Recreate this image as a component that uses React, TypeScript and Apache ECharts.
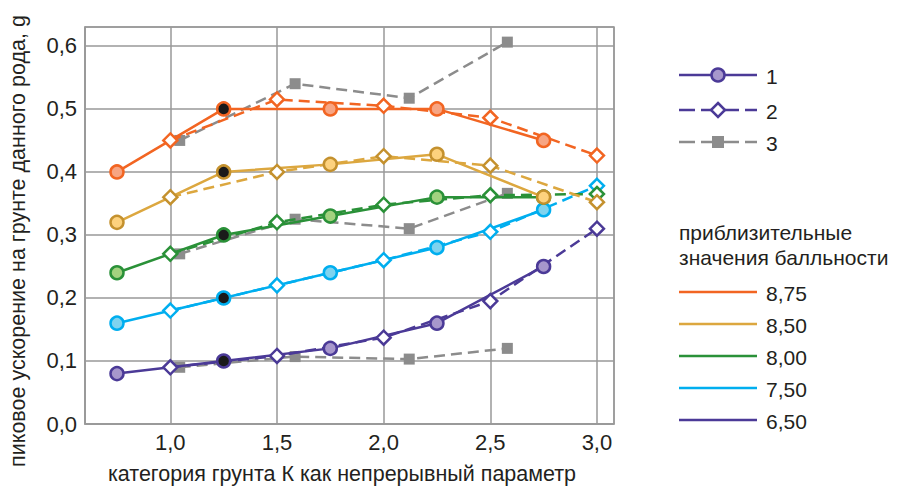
import React, { useEffect, useRef } from "react";
import * as echarts from "echarts";

// x positions (soil category K)
const xSolid = [0.75, 1.25, 1.75, 2.25, 2.75];
const xDashed = [1.0, 1.5, 2.0, 2.5, 3.0];
const xGray = [1.044, 1.585, 2.12, 2.58];

// series 1 (solid, circles) and 2 (dashed, diamonds) per intensity
const solid875 = [0.40, 0.50, 0.50, 0.50, 0.45];
const dashed875 = [0.45, 0.515, 0.505, 0.486, 0.426];
const solid850 = [0.32, 0.40, 0.412, 0.428, 0.36];
const dashed850 = [0.36, 0.40, 0.425, 0.41, 0.352];
const solid800 = [0.24, 0.30, 0.33, 0.36, 0.36];
const dashed800 = [0.27, 0.32, 0.348, 0.363, 0.365];
const solid750 = [0.16, 0.20, 0.24, 0.28, 0.34];
const dashed750 = [0.18, 0.22, 0.26, 0.305, 0.378];
const solid650 = [0.08, 0.10, 0.12, 0.16, 0.25];
const dashed650 = [0.09, 0.108, 0.137, 0.195, 0.31];

// series 3 (grey dashed, squares)
const grayTop = [0.45, 0.54, 0.517, 0.606];
const grayMid = [0.27, 0.325, 0.31, 0.366];
const grayBot = [0.09, 0.107, 0.103, 0.12];

const intensityLabels = ["8,75", "8,50", "8,00", "7,50", "6,50"];
const seriesLabels = ["1", "2", "3"];
const yTitle = "пиковое ускорение на грунте данного рода, g";
const xTitle = "категория грунта К как непрерывный параметр";
const legendTitle = ["приблизительные", "значения балльности"];

const colors = {
  "8,75": { line: "#f26522", fill: "#f7a583", marker: "#f26522" },
  "8,50": { line: "#dca73f", fill: "#fdd27e", marker: "#c4912e" },
  "8,00": { line: "#2a9138", fill: "#a3d27f", marker: "#2a9138" },
  "7,50": { line: "#00aeef", fill: "#7fd3ef", marker: "#00aeef" },
  "6,50": { line: "#4b3a97", fill: "#a797cc", marker: "#4b3a97" },
};
const grayColor = "#8c8c8c";
const textColor = "#231f20";
const FONT = '"Liberation Sans", Arial, sans-serif';

const fmt = (v: number) => v.toFixed(1).replace(".", ",");

export default function App() {
  const ref = useRef<HTMLDivElement>(null);
  useEffect(() => {
    document.body.style.margin = "0";
    if (!ref.current) return;
    const chart = echarts.init(ref.current, undefined, { renderer: "svg" });

    const groups: [string, number[], number[]][] = [
      ["6,50", solid650, dashed650],
      ["7,50", solid750, dashed750],
      ["8,00", solid800, dashed800],
      ["8,50", solid850, dashed850],
      ["8,75", solid875, dashed875],
    ];

    const series: any[] = [];
    [grayBot, grayMid, grayTop].forEach((arr, i) => {
      series.push({
        type: "line",
        name: "3-" + i,
        data: arr.map((v, j) => [xGray[j], v]),
        symbol: "rect",
        symbolSize: 11,
        lineStyle: { color: grayColor, width: 2.5, type: [11, 6] },
        itemStyle: { color: grayColor, borderWidth: 0 },
        z: 2,
      });
    });
    groups.forEach(([key, s, d], gi) => {
      const c = (colors as any)[key];
      series.push({
        type: "line",
        name: key + " 2",
        data: d.map((v, j) => [xDashed[j], v]),
        symbol: "diamond",
        symbolSize: 14,
        lineStyle: { color: c.line, width: 2.5, type: [11, 6] },
        itemStyle: { color: "#ffffff", borderColor: c.marker, borderWidth: 2.5 },
        z: 3 + gi,
      });
      series.push({
        type: "line",
        name: key + " 1",
        data: s.map((v, j) =>
          j === 1
            ? { value: [xSolid[j], v], itemStyle: { color: "#1a1a1a" } }
            : [xSolid[j], v]
        ),
        symbol: "circle",
        symbolSize: 13,
        lineStyle: { color: c.line, width: 2.5 },
        itemStyle: { color: c.fill, borderColor: c.marker, borderWidth: 2.5 },
        z: 3 + gi,
      });
    });

    const txt = (text: string, x: number, y: number, size = 21) => ({
      type: "text",
      x,
      y,
      style: {
        text,
        fill: textColor,
        font: `${size}px ${FONT}`,
        align: "left",
        verticalAlign: "middle",
        textAlign: "left",
        textVerticalAlign: "middle",
      },
    });

    const graphic: any[] = [];
    // y title
    graphic.push({
      type: "text",
      x: 18,
      y: 241,
      rotation: Math.PI / 2,
      style: {
        text: yTitle,
        fill: textColor,
        font: `21.5px ${FONT}`,
        align: "center",
        verticalAlign: "middle",
        textAlign: "center",
        textVerticalAlign: "middle",
      },
    });
    graphic.push({
      type: "text",
      x: 342,
      y: 474,
      style: {
        text: xTitle,
        fill: textColor,
        font: `21.5px ${FONT}`,
        align: "center",
        verticalAlign: "middle",
        textAlign: "center",
        textVerticalAlign: "middle",
      },
    });

    // legend 1, 2, 3
    const purple = colors["6,50"];
    const lx0 = 679, lx1 = 757, lmid = 718;
    const rows = [75, 110, 142];
    graphic.push({
      type: "line",
      shape: { x1: lx0, y1: rows[0], x2: lx1, y2: rows[0] },
      style: { stroke: purple.line, lineWidth: 2.5 },
    });
    graphic.push({
      type: "circle",
      shape: { cx: lmid, cy: rows[0], r: 6.5 },
      style: { fill: purple.fill, stroke: purple.marker, lineWidth: 2.5 },
    });
    graphic.push({
      type: "line",
      shape: { x1: lx0, y1: rows[1], x2: lx1, y2: rows[1] },
      style: { stroke: purple.line, lineWidth: 2.5, lineDash: [16, 6] },
    });
    graphic.push({
      type: "polygon",
      shape: {
        points: [
          [lmid, rows[1] - 7],
          [lmid + 7, rows[1]],
          [lmid, rows[1] + 7],
          [lmid - 7, rows[1]],
        ],
      },
      style: { fill: "#fff", stroke: purple.marker, lineWidth: 2.5 },
    });
    graphic.push({
      type: "line",
      shape: { x1: lx0, y1: rows[2], x2: lx1, y2: rows[2] },
      style: { stroke: grayColor, lineWidth: 2.5, lineDash: [16, 6] },
    });
    graphic.push({
      type: "rect",
      shape: { x: lmid - 6, y: rows[2] - 6, width: 12, height: 12 },
      style: { fill: grayColor },
    });
    seriesLabels.forEach((t, i) => graphic.push(txt(t, 766, rows[i] + 1)));

    graphic.push(txt(legendTitle[0], 679, 232));
    graphic.push(txt(legendTitle[1], 679, 257));

    const crow = [292, 324, 356, 388, 420];
    intensityLabels.forEach((k, i) => {
      graphic.push({
        type: "line",
        shape: { x1: lx0, y1: crow[i], x2: lx1, y2: crow[i] },
        style: { stroke: (colors as any)[k].line, lineWidth: 2.5 },
      });
      graphic.push(txt(k, 766, crow[i] + 1));
    });

    chart.setOption({
      animation: false,
      grid: {
        left: 85,
        top: 27,
        right: 292,
        bottom: 64,
        show: true,
        borderColor: "#999",
        borderWidth: 1.5,
        containLabel: false,
      },
      xAxis: {
        type: "value",
        min: 0.6,
        max: 3.08,
        splitNumber: 5,
        axisLine: { show: true, lineStyle: { color: "#999", width: 1.5 } },
        axisTick: { show: false },
        axisLabel: {
          formatter: fmt,
          color: textColor,
          fontSize: 22,
          fontFamily: FONT,
          margin: 7,
          showMinLabel: false,
          showMaxLabel: false,
        },
        splitLine: { show: true, lineStyle: { color: "#999", width: 1.5 } },
      },
      yAxis: {
        type: "value",
        min: 0,
        max: 0.63,
        interval: 0.1,
        axisLine: { show: true, lineStyle: { color: "#999", width: 1.5 } },
        axisTick: { show: false },
        axisLabel: {
          formatter: fmt,
          color: textColor,
          fontSize: 22,
          fontFamily: FONT,
          margin: 8,
          showMaxLabel: false,
        },
        splitLine: { show: true, lineStyle: { color: "#999", width: 1.5 } },
      },
      series,
      graphic,
    });
    return () => chart.dispose();
  }, []);
  return <div ref={ref} style={{ width: 906, height: 488 }} />;
}
